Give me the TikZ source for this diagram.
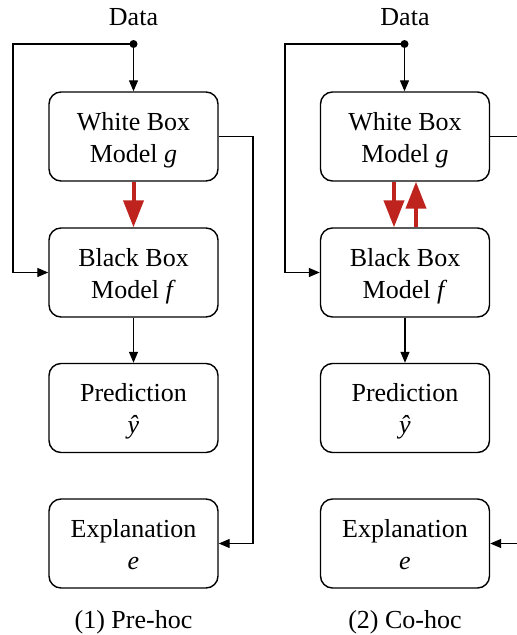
\documentclass[tikz,border=0pt]{standalone}
\usepackage{fontspec}
\setmainfont{Liberation Serif}
\usetikzlibrary{arrows.meta}
\definecolor{redarrow}{RGB}{190,35,30}
\newcommand{\toprl}{\rule{0pt}{25pt}}
\newcommand{\botrl}{\rule[-6pt]{0pt}{6pt}}
\begin{document}
\begin{tikzpicture}[x=1pt,y=-1pt,
  box/.style={draw, line width=1.4pt, rounded corners=12pt, minimum width=169pt, minimum height=89pt, inner sep=0pt, align=center, font=\fontsize{26}{32}\selectfont},
  lbl/.style={font=\fontsize{26}{32}\selectfont, inner sep=0pt, anchor=base},
  wire/.style={line width=1.3pt, line join=miter},
  conn/.style={wire, -{Triangle[length=11pt,width=9pt]}},
  redarr/.style={draw=redarrow, line width=4pt, -{Triangle[length=27pt,width=20pt]}}
]
\useasboundingbox (0,0) rectangle (517,635);
% ---------- left column: Pre-hoc ----------
\node[lbl] (dataL) at (133.5,25) {Data};
\coordinate (dotL) at (133.5,44);
\coordinate (cornerL) at (13,44);
\coordinate (rightL) at (253,136.5);
\node[box] (whiteL) at (133.5,136.5) {\toprl White Box\\Model \textit{g}\botrl};
\node[box] (blackL) at (133.5,272.5) {\toprl Black Box\\Model \textit{f}\botrl};
\node[box] (predL) at (133.5,408) {\toprl Prediction\\\textit{ŷ}\botrl};
\node[box] (explL) at (133.5,543.5) {\toprl Explanation\\\textit{e}\botrl};
\node[lbl] (capL) at (133.5,628) {(1) Pre-hoc};
\draw[conn] (dotL) -- (whiteL.north);
\draw[conn] (dotL) -- (cornerL) |- (blackL.west);
\draw[conn] (whiteL.east) -- (rightL) |- (explL.east);
\draw[conn] (blackL.south) -- (predL.north);
\draw[redarr] (whiteL.south) -- (blackL.north);
\fill (dotL) circle (4pt);
% ---------- right column: Co-hoc ----------
\node[lbl] (dataR) at (405,25) {Data};
\coordinate (dotR) at (404.5,44);
\coordinate (cornerR) at (285,44);
\coordinate (edgeTop) at (517,136.5);
\coordinate (edgeBot) at (517,543.5);
\node[box] (whiteR) at (405,136.5) {\toprl White Box\\Model \textit{g}\botrl};
\node[box] (blackR) at (405,272.5) {\toprl Black Box\\Model \textit{f}\botrl};
\node[box] (predR) at (405,408) {\toprl Prediction\\\textit{ŷ}\botrl};
\node[box] (explR) at (405,543.5) {\toprl Explanation\\\textit{e}\botrl};
\node[lbl] (capR) at (405,628) {(2) Co-hoc};
\draw[conn] (dotR) -- (dotR |- whiteR.north);
\draw[conn] (dotR) -- (cornerR) |- (blackR.west);
\draw[wire] (whiteR.east) -- (edgeTop);
\draw[conn] (edgeBot) -- (explR.east);
\draw[conn] (blackR.south) -- (predR.north);
\draw[redarr] ([xshift=-11pt]whiteR.south) -- ([xshift=-11pt]blackR.north);
\draw[redarr] ([xshift=11pt]blackR.north) -- ([xshift=11pt]whiteR.south);
\fill (dotR) circle (4pt);
\end{tikzpicture}
\end{document}
